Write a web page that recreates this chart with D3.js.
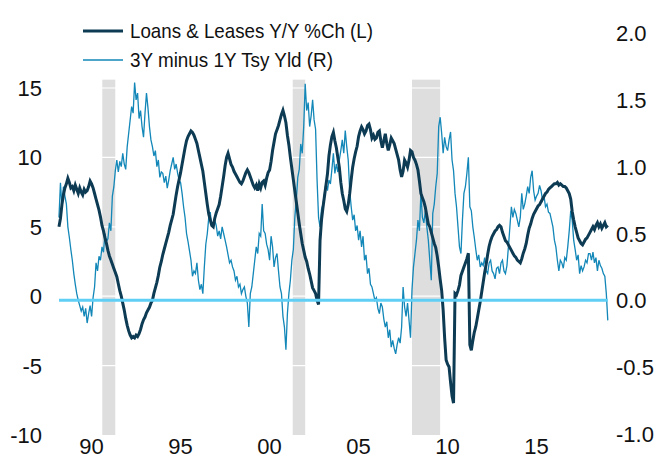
<!DOCTYPE html>
<html>
<head>
<meta charset="utf-8">
<script src="https://cdn.jsdelivr.net/npm/d3@7"></script>
<style>
  body { margin: 0; background: #fff; }
  text { font-family: "Liberation Sans", Arial, sans-serif; fill: #111; }
</style>
</head>
<body>
<div id="chart"></div>
<script>
// monthly series, first value = March 1988
const startYear = 1988;
const startMonth = 3;

// Loans & Leases Y/Y %Ch (left axis)
const loansYoY = [
  5.0, 5.6, 6.6, 7.3, 7.8, 8.1, 8.5, 8.2, 7.8, 7.9,
  7.6, 8.0, 7.7, 7.4, 7.8, 7.5, 7.3, 7.7, 7.5, 7.6, 7.9, 8.3,
  8.1, 7.8, 7.4, 7.0, 6.6, 6.2, 5.7, 5.1, 4.7, 4.2, 3.8, 3.3,
  2.9, 2.6, 2.3, 2.0, 1.7, 1.4, 0.9, 0.4, 0.0, -0.5, -1.0, -1.6,
  -2.1, -2.5, -2.8, -3.0, -2.9, -3.0, -2.8, -2.9, -2.7, -2.4, -2.0, -1.7,
  -1.5, -1.2, -1.0, -0.8, -0.5, -0.3, 0.2, 0.6, 1.0, 1.5, 2.1, 2.5,
  3.0, 3.4, 3.8, 4.2, 4.6, 5.1, 5.5, 5.9, 6.6, 7.3, 7.9, 8.4,
  8.9, 9.5, 10.1, 10.7, 11.2, 11.5, 11.7, 11.9, 11.8, 11.6, 11.3, 11.0,
  10.5, 10.0, 9.5, 9.0, 8.2, 7.4, 6.6, 5.9, 5.5, 5.1, 5.0, 5.6,
  6.0, 6.3, 6.6, 7.2, 7.9, 8.6, 9.4, 10.0, 10.3, 9.9, 9.5, 9.3,
  9.0, 8.8, 8.6, 8.4, 8.2, 8.1, 8.3, 8.6, 8.9, 9.1, 8.9, 8.6,
  8.3, 8.0, 7.8, 8.0, 7.6, 8.1, 7.8, 8.2, 8.3, 8.0, 8.5, 8.9,
  9.1, 9.7, 10.5, 11.1, 11.7, 12.0, 12.3, 12.7, 13.1, 13.4, 13.0, 12.5,
  11.6, 10.9, 10.0, 9.2, 8.4, 7.6, 6.8, 6.0, 5.2, 4.5, 3.8, 3.3,
  2.8, 2.5, 2.0, 1.6, 1.1, 0.6, 0.4, 0.2, -0.3, -0.6, 4.0, 5.5,
  6.4, 7.2, 8.0, 8.8, 10.1, 10.9, 11.5, 11.8, 11.2, 10.7, 10.0, 9.3,
  8.2, 7.4, 6.9, 6.3, 6.1, 6.6, 7.4, 8.4, 9.3, 9.9, 10.4, 10.8,
  11.5, 11.9, 12.2, 12.0, 11.7, 11.9, 12.3, 12.4, 12.0, 11.4, 11.6, 11.3,
  11.4, 11.8, 11.9, 11.2, 10.7, 11.2, 11.7, 11.0, 10.5, 10.9, 11.4, 11.2,
  11.0, 10.6, 10.2, 9.8, 9.1, 8.6, 9.0, 9.8, 9.6, 9.3, 9.8, 10.5,
  10.4, 10.0, 9.8, 9.5, 9.1, 8.3, 7.4, 7.1, 6.8, 6.4, 5.8, 5.2,
  5.0, 4.6, 4.2, 3.8, 3.5, 2.9, 2.1, 1.2, 0.4, -1.0, -3.0, -4.6,
  -4.9, -5.1, -6.2, -7.2, -7.7, 0.2, 0.1, 0.4, 0.8, 1.5, 1.8, 2.1,
  2.4, 2.7, 3.1, -3.5, -3.9, -3.2, -2.6, -2.2, -1.6, -1.0, -0.4, 0.3,
  1.0, 1.7, 2.3, 3.0, 3.6, 4.0, 4.3, 4.5, 4.7, 4.8, 5.0, 5.1,
  5.0, 4.6, 4.3, 4.0, 3.9, 3.7, 3.5, 3.3, 3.1, 2.9, 2.8, 2.6,
  2.5, 2.4, 2.7, 3.1, 3.4, 3.8, 4.4, 4.9, 5.2, 5.6, 5.9, 6.1,
  6.3, 6.5, 6.6, 6.8, 7.0, 7.2, 7.4, 7.5, 7.7, 7.8, 7.9, 8.0,
  8.1, 8.1, 8.2, 8.0, 8.1, 8.0, 7.9, 7.9, 7.8, 7.6, 7.4, 7.0,
  6.1, 5.5, 5.0, 4.6, 4.2, 4.0, 3.8, 3.7, 3.9, 4.1, 4.2, 4.4,
  4.6, 4.8, 5.0, 4.8, 5.1, 5.3, 5.0, 5.2, 4.9, 5.1, 5.3, 5.0,
  5.1
];

// 3Y minus 1Y Tsy Yld (right axis)
const tsySpread = [
  0.62, 0.88, 0.70, 0.85, 0.78, 0.72, 0.55, 0.47, 0.38, 0.30,
  0.20, 0.12, 0.05, 0.00, -0.04, -0.08, -0.05, -0.12, -0.06, -0.17, -0.10, -0.04,
  -0.12, 0.02, 0.10, 0.28, 0.22, 0.33, 0.30, 0.40, 0.36, 0.50, 0.44, 0.46,
  0.58, 0.52, 0.78, 0.85, 0.97, 1.05, 0.96, 1.04, 1.00, 1.10, 1.02, 0.98,
  1.15, 1.25, 1.35, 1.45, 1.40, 1.63, 1.50, 1.55, 1.36, 1.42, 1.30, 1.22,
  1.40, 1.55, 1.44, 1.30, 1.20, 1.15, 1.08, 1.12, 1.00, 1.05, 0.92, 0.96,
  0.95, 0.88, 0.93, 0.84, 0.90, 0.97, 1.02, 1.07, 0.98, 1.02, 0.95, 0.90,
  0.88, 0.80, 0.70, 0.62, 0.50, 0.44, 0.37, 0.30, 0.18, 0.22, 0.20, 0.28,
  0.15, 0.08, 0.12, 0.05, 0.25, 0.42, 0.50, 0.62, 0.66, 0.55, 0.58, 0.60,
  0.56, 0.48, 0.52, 0.46, 0.55, 0.50, 0.45, 0.40, 0.34, 0.28, 0.30, 0.25,
  0.22, 0.15, 0.18, 0.10, 0.12, 0.05, 0.08, 0.10, 0.03, -0.02, -0.20, 0.05,
  0.10, 0.20, 0.30, 0.40, 0.35, 0.50, 0.48, 0.72, 0.52, 0.50, 0.42, 0.38,
  0.30, 0.48, 0.40, 0.25, 0.32, 0.35, 0.22, 0.10, 0.05, -0.12, -0.20, -0.37,
  -0.10, 0.05, 0.15, 0.30, 0.38, 0.62, 0.75, 0.92, 0.98, 1.17, 1.10, 1.30,
  1.62, 1.42, 1.48, 1.30, 1.38, 1.50, 1.35, 1.28, 0.90, 0.62, 0.55, 0.68,
  0.72, 0.80, 0.88, 0.82, 0.90, 0.87, 0.98, 1.10, 0.95, 1.02, 0.96, 1.05,
  1.12, 1.20, 1.10, 1.27, 1.15, 1.05, 0.82, 0.70, 0.60, 0.64, 0.52, 0.56,
  0.45, 0.52, 0.40, 0.48, 0.30, 0.34, 0.20, 0.24, 0.12, 0.10, 0.05, 0.00,
  0.02, -0.06, -0.10, -0.02, -0.05, -0.14, -0.20, -0.16, -0.28, -0.22, -0.35, -0.30,
  -0.36, -0.40, -0.33, -0.28, -0.32, -0.20, 0.10, -0.05, -0.12, -0.02, -0.15, -0.28,
  0.08, 0.25, 0.35, 0.45, 0.60, 0.52, 0.80, 0.62, 0.58, 0.67, 0.55, 0.45,
  0.30, 0.15, 0.65, 0.72, 0.85, 0.95, 1.30, 1.37, 1.25, 1.10, 1.22, 1.15,
  1.12, 1.20, 1.26, 1.05, 0.97, 0.80, 0.70, 0.55, 0.40, 0.35, 0.60, 0.80,
  0.85, 0.95, 1.07, 0.70, 0.67, 0.55, 0.47, 0.38, 0.30, 0.34, 0.25, 0.28,
  0.26, 0.32, 0.22, 0.20, 0.28, 0.30, 0.22, 0.20, 0.16, 0.24, 0.25, 0.20,
  0.28, 0.30, 0.22, 0.20, 0.26, 0.40, 0.55, 0.70, 0.62, 0.68, 0.65, 0.60,
  0.55, 0.62, 0.80, 0.68, 0.72, 0.78, 0.85, 0.80, 0.92, 0.97, 0.82, 0.75,
  0.78, 0.80, 0.86, 0.82, 0.75, 0.78, 0.70, 0.72, 0.66, 0.65, 0.60, 0.55,
  0.45, 0.40, 0.30, 0.22, 0.30, 0.28, 0.24, 0.32, 0.30, 0.40, 0.52, 0.67,
  0.60, 0.45, 0.38, 0.30, 0.34, 0.20, 0.26, 0.22, 0.25, 0.30, 0.28, 0.35,
  0.35, 0.30, 0.36, 0.28, 0.32, 0.22, 0.30, 0.26, 0.24, 0.20, 0.18, 0.05,
  -0.15
];

// recession bands [start, end] as decimal years
const recessions = [[1990.6, 1991.33], [2001.3, 2002.0], [2008.0, 2009.58]];

const xTickYears = [1990, 1995, 2000, 2005, 2010, 2015];
const xTickLabels = ["90", "95", "00", "05", "10", "15"];
const leftTicks = [15, 10, 5, 0, -5, -10];
const rightTicks = [2.0, 1.5, 1.0, 0.5, 0.0, -0.5, -1.0];

const legendItems = ["Loans & Leases Y/Y %Ch (L)", "3Y minus 1Y Tsy Yld (R)"];

document.addEventListener('DOMContentLoaded', () => {
    const width = 660;
    const height = 459;
    const navy = "#0d3b54";
    const blue = "#1287b8";

    const svg = d3.select("#chart")
        .append("svg")
        .attr("width", width)
        .attr("height", height);

    const x = d3.scaleLinear().domain([1988, 2020]).range([56, 625.6]);
    const yL = d3.scaleLinear().domain([-10, 15]).range([435, 88]);
    const yR = d3.scaleLinear().domain([-1, 2]).range([434, 33]);

    const toYear = i => startYear + (startMonth - 1 + i) / 12;
    const loans = loansYoY.map((v, i) => [toYear(i), v]);
    const spread = tsySpread.map((v, i) => [toYear(i), v]);

    // recession shading
    svg.append("g")
        .selectAll("rect")
        .data(recessions)
        .enter().append("rect")
        .attr("x", d => x(d[0]))
        .attr("width", d => x(d[1]) - x(d[0]))
        .attr("y", yL(15.6))
        .attr("height", yL(-10) - yL(15.6))
        .attr("fill", "#dedede");

    // white gridlines (only show over the shading)
    svg.append("g")
        .selectAll("line")
        .data(leftTicks.filter(d => d > -10))
        .enter().append("line")
        .attr("x1", x(1988)).attr("x2", x(2019.5))
        .attr("y1", d => yL(d)).attr("y2", d => yL(d))
        .attr("stroke", "#fff")
        .attr("stroke-width", 1.2);

    svg.append("path")
        .datum(spread)
        .attr("fill", "none")
        .attr("stroke", blue)
        .attr("stroke-width", 1.3)
        .attr("d", d3.line().x(d => x(d[0])).y(d => yR(d[1])));

    svg.append("path")
        .datum(loans)
        .attr("fill", "none")
        .attr("stroke", navy)
        .attr("stroke-width", 3)
        .attr("d", d3.line().x(d => x(d[0])).y(d => yL(d[1])));

    // zero line of the right axis
    svg.append("line")
        .attr("x1", x(spread[0][0])).attr("x2", x(spread[spread.length - 1][0]))
        .attr("y1", yR(0)).attr("y2", yR(0))
        .attr("stroke", "#5fcff5")
        .attr("stroke-width", 3);

    const fmt = d => d3.format(".1f")(d).replace("\u2212", "-");

    // left axis
    svg.append("g")
        .selectAll("text")
        .data(leftTicks)
        .enter().append("text")
        .attr("x", 42)
        .attr("y", d => yL(d) + 8)
        .attr("text-anchor", "end")
        .attr("font-size", 22)
        .text(d => d);

    // right axis
    svg.append("g")
        .selectAll("text")
        .data(rightTicks)
        .enter().append("text")
        .attr("x", 616)
        .attr("y", d => yR(d) + 8)
        .attr("font-size", 22)
        .text(fmt);

    // x axis
    svg.append("g")
        .selectAll("text")
        .data(xTickYears)
        .enter().append("text")
        .attr("x", d => x(d))
        .attr("y", 454)
        .attr("text-anchor", "middle")
        .attr("font-size", 22)
        .text((d, i) => xTickLabels[i]);

    // legend
    const legend = svg.append("g");
    legend.append("line")
        .attr("x1", 83).attr("x2", 123).attr("y1", 31).attr("y2", 31)
        .attr("stroke", navy).attr("stroke-width", 3);
    legend.append("line")
        .attr("x1", 83).attr("x2", 123).attr("y1", 60).attr("y2", 60)
        .attr("stroke", blue).attr("stroke-width", 1.5);
    const legendWidths = [243, 203];
    legend.selectAll("text")
        .data(legendItems)
        .enter().append("text")
        .attr("x", 130)
        .attr("y", (d, i) => 38 + i * 29)
        .attr("font-size", 21)
        .attr("textLength", (d, i) => legendWidths[i])
        .attr("lengthAdjust", "spacingAndGlyphs")
        .text(d => d);
});
</script>
</body>
</html>
